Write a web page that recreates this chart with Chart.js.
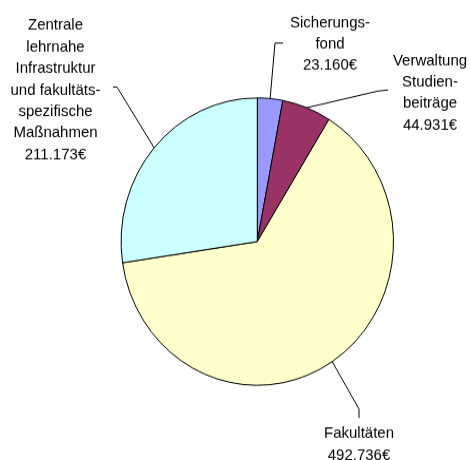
<!DOCTYPE html>
<html>
<head>
<meta charset="utf-8">
<script src="https://cdn.jsdelivr.net/npm/chart.js@4/dist/chart.umd.min.js"></script>
<style>
  html, body { margin: 0; padding: 0; background: #fff; }
  body { width: 470px; height: 460px; overflow: hidden; }
  /* das Original ist leicht vertikal gestreckt */
  #wrap { width: 470px; height: 436px; transform: scaleY(1.055); transform-origin: 0 0; }
</style>
</head>
<body>
<div id="wrap"><canvas id="pie" width="470" height="436"></canvas></div>
<script>
// Daten
const categories = ['Sicherungsfond', 'Verwaltung Studienbeiträge', 'Fakultäten',
  'Zentrale lehrnahe Infrastruktur und fakultätsspezifische Maßnahmen'];
const labelLines = [
  ['Sicherungs-', 'fond'],
  ['Verwaltung', 'Studien-', 'beiträge'],
  ['Fakultäten'],
  ['Zentrale', 'lehrnahe', 'Infrastruktur', 'und fakultäts-', 'spezifische', 'Maßnahmen']
];
const values = [23160, 44931, 492736, 211173];
const colors = ['#9999FF', '#993366', '#FFFFCC', '#CCFFFF'];

// Position der Beschriftungen (Mitte x, erste Grundlinie y) und Knick der Fuehrungslinie
const labelPos = [
  { x: 330, y: 25.6, elbow: [275, 40.8], end: [283, 40.8] },
  { x: 430, y: 61.6, elbow: [378, 86.3], end: [388, 85.3] },
  { x: 359, y: 415.2, elbow: [359, 387.7], end: [359, 396.2] },
  { x: 55.5, y: 28.4, elbow: [117, 82.5], end: [113, 82.5] }
];
const lineH = 20.4;

function euro(v) {
  return String(v).replace(/\B(?=(\d{3})+(?!\d))/g, '.') + '€';
}

const labelPlugin = {
  id: 'leaderLabels',
  afterDraw(chart) {
    const ctx = chart.ctx;
    const arcs = chart.getDatasetMeta(0).data;
    ctx.save();
    ctx.strokeStyle = '#000';
    ctx.lineWidth = 1;
    ctx.fillStyle = '#000';
    ctx.font = '15px "Liberation Sans", Arial, sans-serif';
    ctx.textAlign = 'center';
    ctx.textBaseline = 'alphabetic';
    arcs.forEach((arc, i) => {
      const p = arc.getProps(['x', 'y', 'startAngle', 'endAngle', 'outerRadius'], true);
      const mid = (p.startAngle + p.endAngle) / 2;
      const ax = p.x + Math.cos(mid) * p.outerRadius;
      const ay = p.y + Math.sin(mid) * p.outerRadius;
      const lp = labelPos[i];
      ctx.beginPath();
      ctx.moveTo(ax, ay);
      ctx.lineTo(lp.elbow[0], lp.elbow[1]);
      ctx.lineTo(lp.end[0], lp.end[1]);
      ctx.stroke();
      const lines = labelLines[i].concat([euro(values[i])]);
      lines.forEach((t, k) => ctx.fillText(t, lp.x, lp.y + k * lineH));
    });
    ctx.restore();
  }
};

new Chart(document.getElementById('pie'), {
  type: 'pie',
  data: {
    labels: categories,
    datasets: [{
      data: values,
      backgroundColor: colors,
      borderColor: '#000',
      borderWidth: 1
    }]
  },
  options: {
    responsive: false,
    animation: false,
    layout: { padding: { left: 120.6, right: 76, top: 92.3, bottom: 70.3 } },
    plugins: {
      legend: { display: false },
      tooltip: { enabled: false }
    }
  },
  plugins: [labelPlugin]
});
</script>
</body>
</html>
